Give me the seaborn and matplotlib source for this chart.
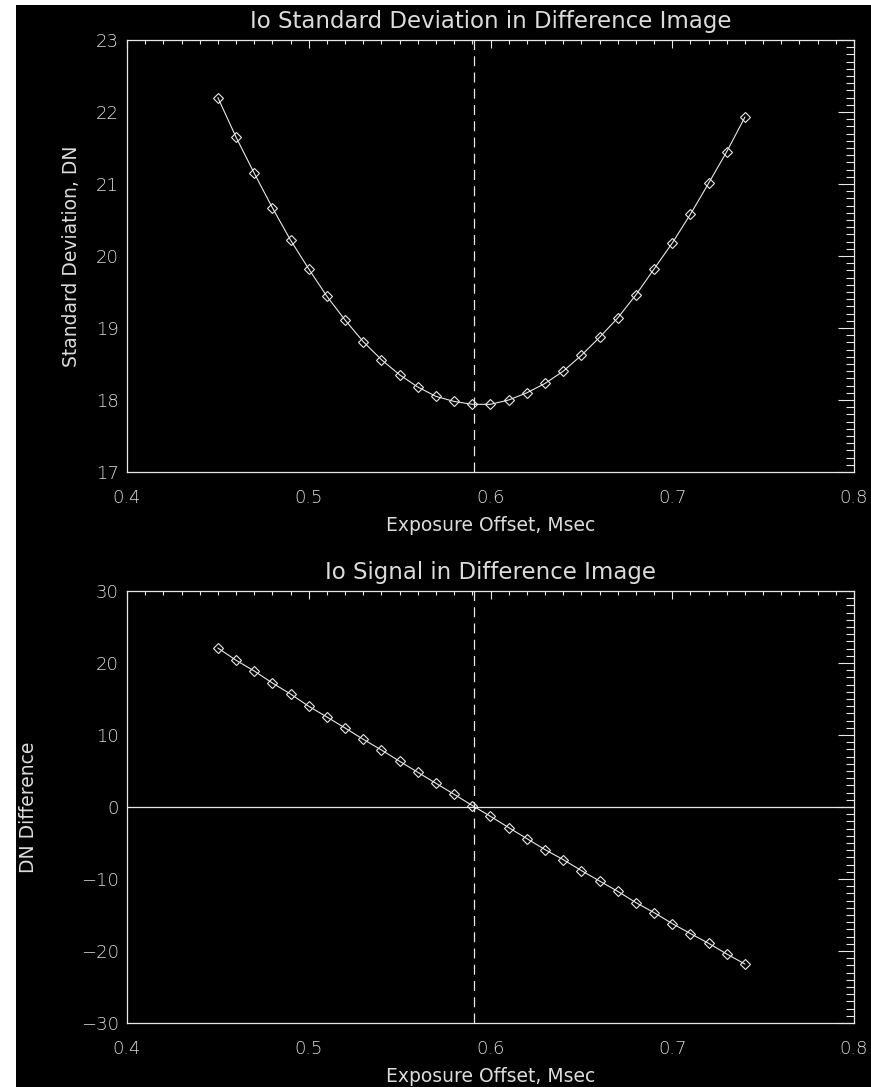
import matplotlib
matplotlib.use("Agg")
import matplotlib.pyplot as plt
import seaborn as sns
from matplotlib.patches import Rectangle
from matplotlib.ticker import MultipleLocator

# exposure offsets (msec) and measured values
offset = [0.45, 0.46, 0.47, 0.48, 0.49, 0.50, 0.51, 0.52, 0.53, 0.54,
          0.55, 0.56, 0.57, 0.58, 0.59, 0.60, 0.61, 0.62, 0.63, 0.64,
          0.65, 0.66, 0.67, 0.68, 0.69, 0.70, 0.71, 0.72, 0.73, 0.74]
std_dn = [22.20, 21.65, 21.15, 20.67, 20.22, 19.82, 19.44, 19.11, 18.81, 18.56,
          18.35, 18.18, 18.05, 17.98, 17.94, 17.94, 18.00, 18.10, 18.23, 18.40,
          18.62, 18.87, 19.14, 19.46, 19.82, 20.18, 20.58, 21.01, 21.45, 21.93]
signal_dn = [22.08, 20.38, 18.89, 17.22, 15.69, 13.99, 12.50, 10.97, 9.40, 7.92,
             6.35, 4.82, 3.29, 1.76, 0.20, -1.30, -2.86, -4.39, -5.92, -7.31,
             -8.83, -10.28, -11.71, -13.28, -14.67, -16.19, -17.58, -18.93, -20.42, -21.81]
best_offset = 0.591

FG = '#e8e8e8'
TXT = '#dcdcdc'

sns.set_style('dark', rc={'axes.facecolor': 'black', 'figure.facecolor': 'white'})
plt.rcParams['font.family'] = ['DejaVu Sans']
plt.rcParams['font.weight'] = 'light'
plt.rcParams['text.color'] = TXT
plt.rcParams['axes.labelcolor'] = TXT
plt.rcParams['xtick.color'] = FG
plt.rcParams['ytick.color'] = FG

W, H = 871, 1087
fig = plt.figure(figsize=(W / 100, H / 100), dpi=100)
# black page with a thin white strip at top / left (as in the scan)
fig.patches.append(Rectangle((16 / W, 0), 1 - 16 / W, 1 - 5 / H,
                             transform=fig.transFigure, facecolor='black',
                             edgecolor='none', zorder=-10))

ax_left = 127 / W
ax_w = (854 - 127) / W
ax_h = 432 / H
ax1 = fig.add_axes([ax_left, 1 - 472 / H, ax_w, ax_h])
ax2 = fig.add_axes([ax_left, 1 - 1023 / H, ax_w, ax_h])


def style_axis(ax, ymaj, ymin):
    ax.set_facecolor('black')
    for s in ax.spines.values():
        s.set_visible(True)
        s.set_color(FG)
        s.set_linewidth(0.9)
    ax.grid(False)
    ax.set_xlim(0.4, 0.8)
    ax.xaxis.set_major_locator(MultipleLocator(0.1))
    ax.xaxis.set_minor_locator(MultipleLocator(0.01))
    ax.yaxis.set_major_locator(MultipleLocator(ymaj))
    ax.yaxis.set_minor_locator(MultipleLocator(ymin))
    ax.tick_params(axis='both', which='both', direction='in', top=True, right=True,
                   width=0.8, labelsize=13, labelcolor=TXT)
    ax.tick_params(axis='x', which='major', length=6, pad=12)
    ax.tick_params(axis='x', which='minor', length=3)
    ax.tick_params(axis='y', which='major', length=11.5, pad=6)
    ax.tick_params(axis='y', which='minor', length=5.8)
    ax.xaxis.set_major_formatter(plt.FuncFormatter(lambda v, p: f'{v:.1f}'))
    ax.set_xlabel('Exposure Offset, Msec', fontsize=13.5)
    ax.xaxis.set_label_coords(0.5, -0.102)
    ax.axvline(best_offset, color=FG, lw=0.9, dashes=(8, 5))


def draw_series(ax, y):
    sns.lineplot(x=offset, y=y, ax=ax, color=FG, lw=0.8, marker='D',
                 markersize=4.6, markerfacecolor='none', markeredgecolor=FG,
                 markeredgewidth=0.8, legend=False)


draw_series(ax1, std_dn)
style_axis(ax1, 1, 0.1)
ax1.set_ylim(17, 23)
ax1.set_title('Io Standard Deviation in Difference Image', fontsize=16.5,
              y=1.028, pad=0)
ax1.set_ylabel('Standard Deviation, DN', fontsize=13.5)
ax1.yaxis.set_label_coords(-0.063, 0.5)

draw_series(ax2, signal_dn)
style_axis(ax2, 10, 1)
ax2.set_ylim(-30, 30)
ax2.axhline(0, color=FG, lw=0.9)
ax2.set_title('Io Signal in Difference Image', fontsize=16.5, y=1.028, pad=0)
ax2.set_ylabel('DN Difference', fontsize=13.5)
ax2.yaxis.set_label_coords(-0.122, 0.5)

fig.savefig('out.png', dpi=100, facecolor='white')
